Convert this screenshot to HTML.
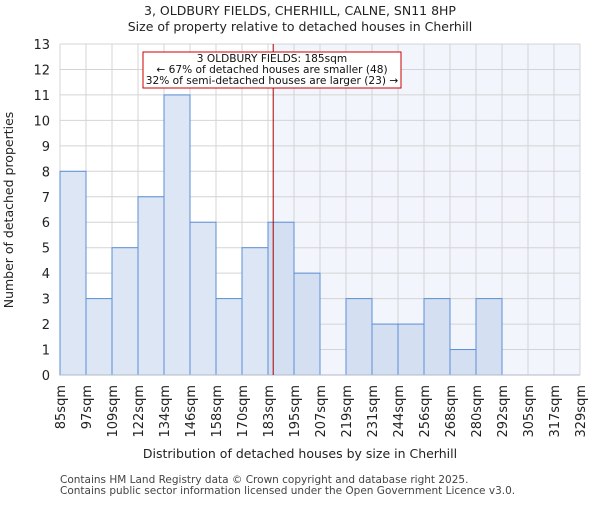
<!DOCTYPE html>
<html><head><meta charset="utf-8"><style>body{margin:0;background:#fff}svg{font-family:"DejaVu Sans","Liberation Sans",sans-serif}</style></head>
<body>
<svg id="c" width="600" height="500" xmlns="http://www.w3.org/2000/svg"></svg>
<script>
const categories=["85sqm","97sqm","109sqm","122sqm","134sqm","146sqm","158sqm","170sqm","183sqm","195sqm","207sqm","219sqm","231sqm","244sqm","256sqm","268sqm","280sqm","292sqm","305sqm","317sqm","329sqm"];
const counts=[8,3,5,7,11,6,3,5,6,4,0,3,2,2,3,1,3,0,0,0];
const yTicks=[0,1,2,3,4,5,6,7,8,9,10,11,12,13];
const markerIndex=8.2;
const NS="http://www.w3.org/2000/svg";
const svg=document.getElementById('c');
const X0=60,X1=580,Y0=375,Y1=44,n=counts.length;
const xs=i=>X0+i*(X1-X0)/n;
const ys=v=>Y0-v*(Y0-Y1)/13;
function mk(t,a,txt){const e=document.createElementNS(NS,t);for(const k in a)e.setAttribute(k,a[k]);if(txt!==undefined)e.textContent=txt;svg.appendChild(e);return e;}
let e;
e=mk('rect',{x:X0,y:Y1,width:X1-X0,height:Y0-Y1,fill:'#fff'});


const mx=xs(markerIndex);
e=mk('rect',{x:mx,y:Y1,width:X1-mx,height:Y0-Y1,fill:'#f2f5fc'});


yTicks.forEach(v=>{mk('line',{x1:X0,x2:X1,y1:ys(v),y2:ys(v),stroke:'#d4d4d4','stroke-width':1});
e=mk('text',{x:X0-10,y:ys(v)+5,'text-anchor':'end','font-size':13,fill:'#222'},v);

});
for(let i=0;i<=n;i++)mk('line',{x1:xs(i),x2:xs(i),y1:Y1,y2:Y0,stroke:'#d4d4d4','stroke-width':1});
counts.forEach((v,i)=>{if(v<=0)return;
e=mk('rect',{x:xs(i),y:ys(v),width:xs(1)-xs(0),height:Y0-ys(v),fill:i>=8?'#d4dff2':'#dce6f4',stroke:'#5b8fd6','stroke-width':1});

});
mk('line',{x1:X0,x2:X1,y1:Y0,y2:Y0,stroke:'#b0b8c8','stroke-width':1});
categories.forEach((c,i)=>{e=mk('text',{transform:`translate(${xs(i)+5},385) rotate(-90)`,'text-anchor':'end','font-size':13,fill:'#222'},c);

});
e=mk('line',{x1:mx,x2:mx,y1:Y1,y2:Y0,stroke:'#a00','stroke-width':1});


e=mk('rect',{x:143,y:52,width:258,height:36,fill:'#fff',stroke:'#c00','stroke-width':1});


[["3 OLDBURY FIELDS: 185sqm",62],["← 67% of detached houses are smaller (48)",73],["32% of semi-detached houses are larger (23) →",84]].forEach(([t,y])=>{
e=mk('text',{x:272,y:y,'text-anchor':'middle','font-size':10.6,fill:'#111'},t);

});
e=mk('text',{x:300,y:15,'text-anchor':'middle','font-size':12.5,fill:'#222'},"3, OLDBURY FIELDS, CHERHILL, CALNE, SN11 8HP");


e=mk('text',{x:300,y:31,'text-anchor':'middle','font-size':12.5,fill:'#222'},"Size of property relative to detached houses in Cherhill");


e=mk('text',{x:300,y:458,'text-anchor':'middle','font-size':12.5,fill:'#222'},"Distribution of detached houses by size in Cherhill");


e=mk('text',{transform:'translate(13,210) rotate(-90)','text-anchor':'middle','font-size':12.5,fill:'#222'},"Number of detached properties");


e=mk('text',{x:60,y:483,'font-size':10.5,fill:'#444'},"Contains HM Land Registry data © Crown copyright and database right 2025.");


e=mk('text',{x:60,y:494,'font-size':10.5,fill:'#444'},"Contains public sector information licensed under the Open Government Licence v3.0.");


</script>
</body></html>
